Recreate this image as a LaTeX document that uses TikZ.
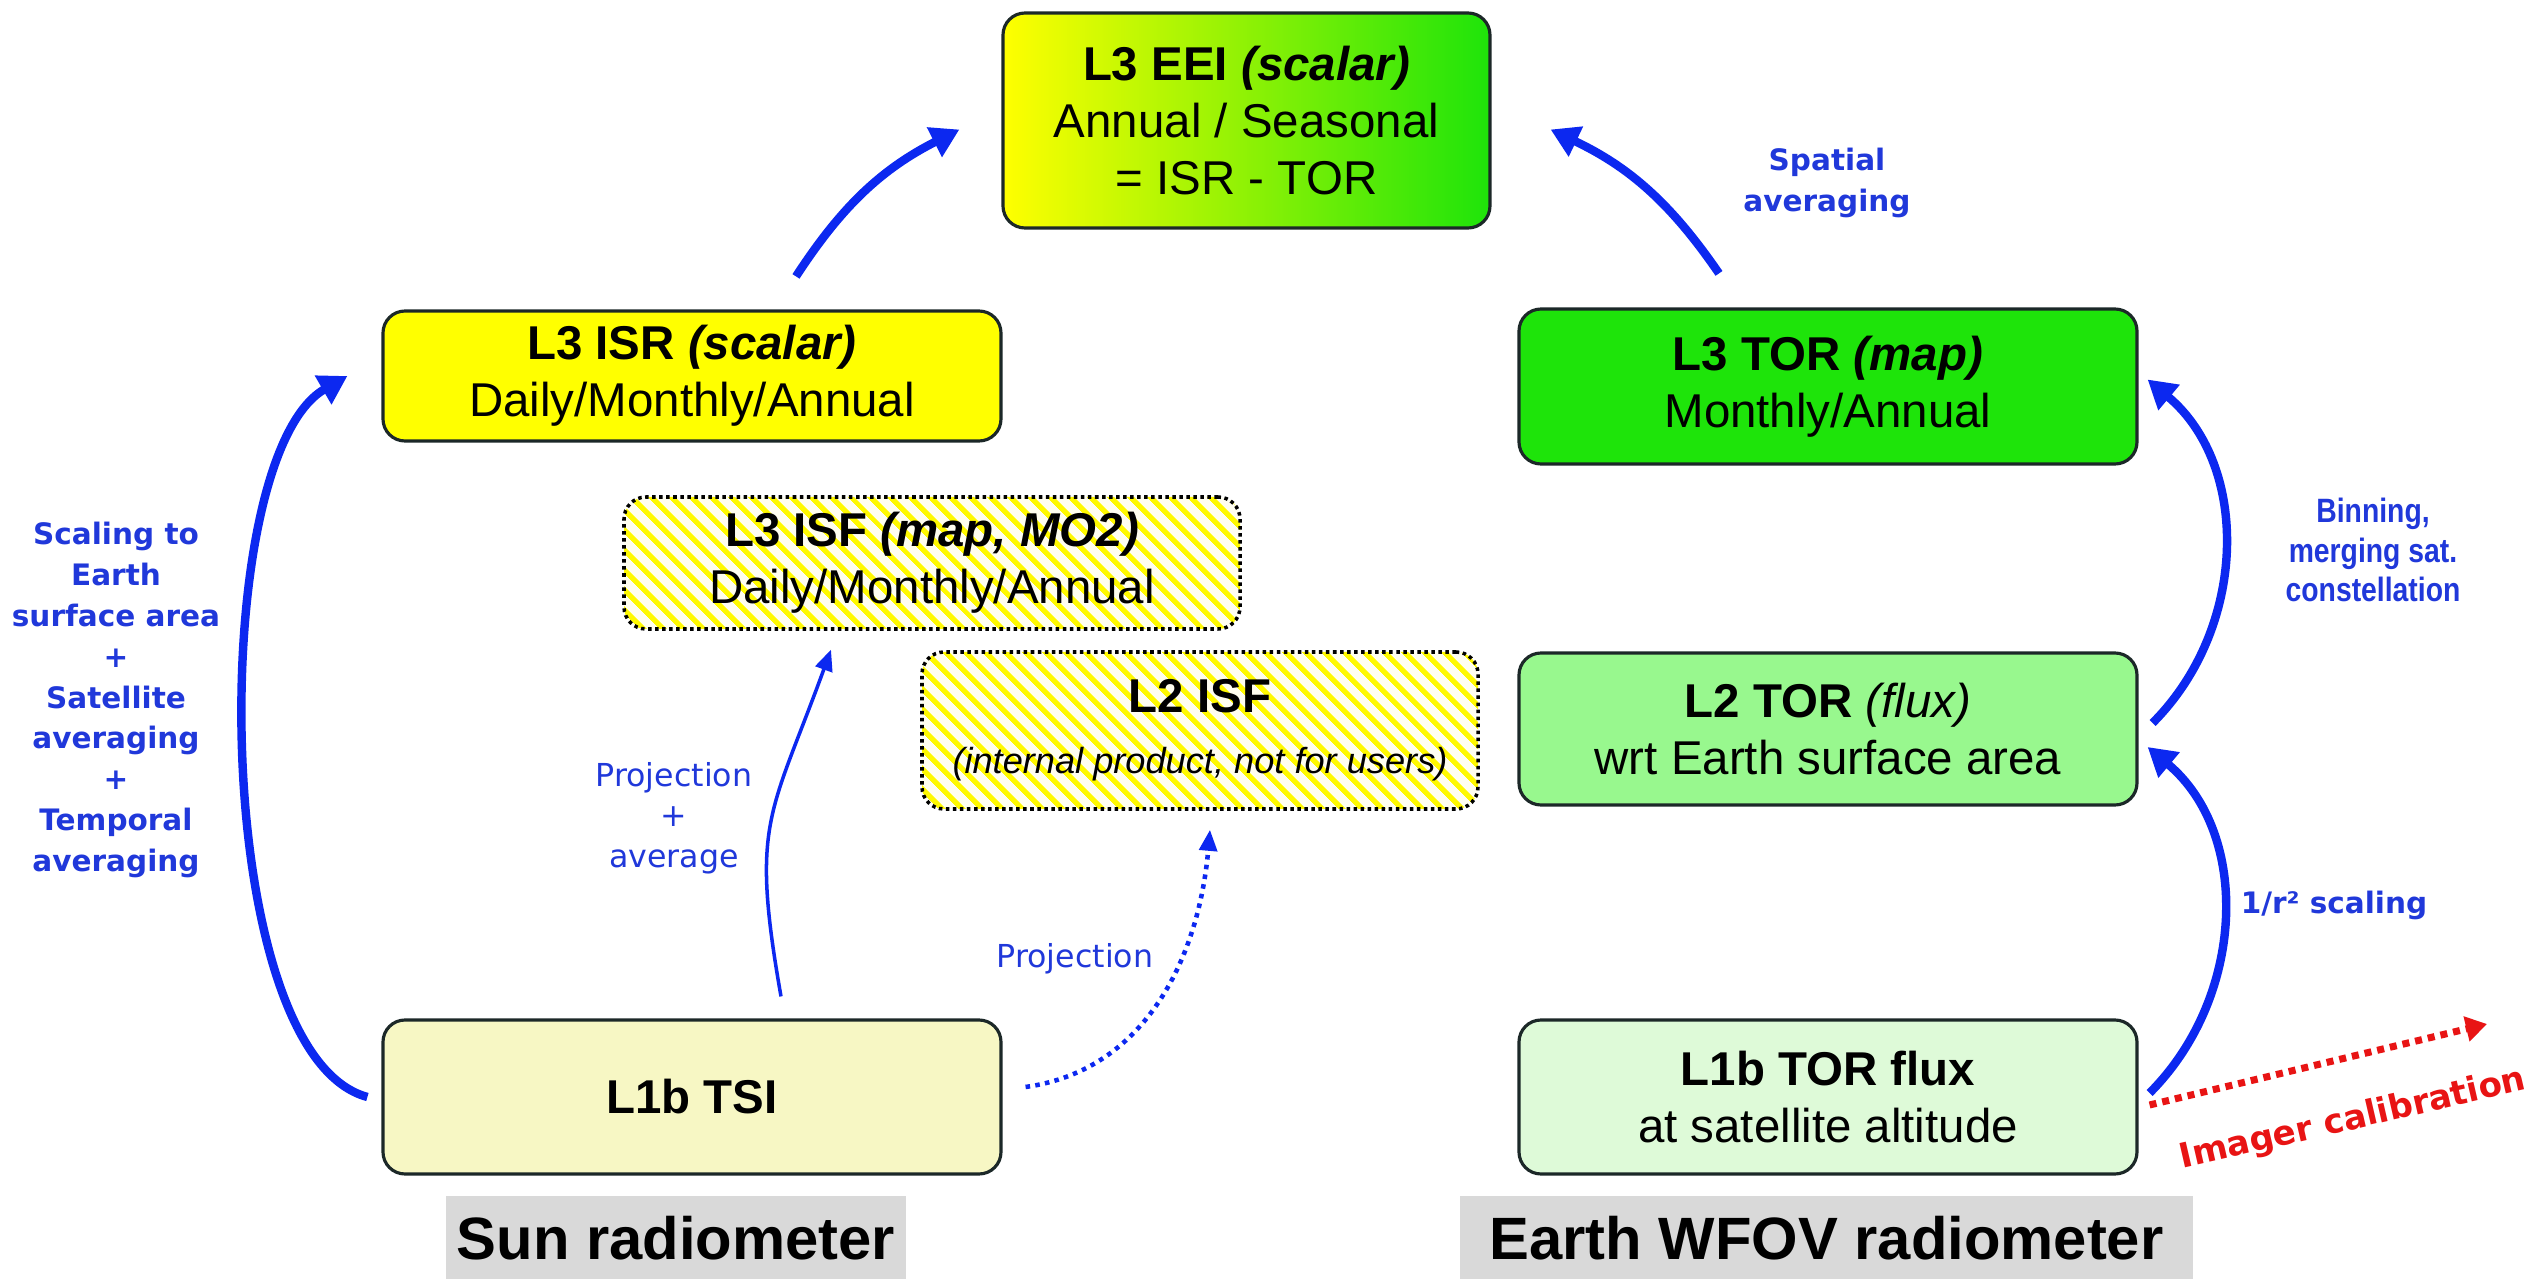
\documentclass[tikz,border=0pt]{standalone}
\usepackage{fontspec}
\setmainfont{Liberation Sans}
\newfontfamily\lblfont{DejaVu Sans}
\newfontfamily\narrowfont[FakeStretch=0.84]{Liberation Sans}
\usetikzlibrary{arrows.meta,patterns.meta}

\definecolor{flowblue}{RGB}{12,40,240}
\definecolor{lblblue}{RGB}{32,56,218}
\definecolor{calred}{RGB}{232,20,20}
\definecolor{isryellow}{RGB}{255,255,0}
\definecolor{torgreen}{RGB}{30,228,10}
\definecolor{fluxgreen}{RGB}{152,248,142}
\definecolor{rawgreen}{RGB}{222,250,216}
\definecolor{tsiyellow}{RGB}{247,247,196}
\definecolor{boxedge}{RGB}{28,40,40}
\definecolor{taggray}{RGB}{217,217,217}

\begin{document}
\begin{tikzpicture}[
  box/.style={draw=boxedge, line width=0.9pt, rounded corners=0.22cm,
    minimum width=6.18cm, inner sep=0pt, align=center,
    font=\fontsize{13.5}{16.3}\selectfont},
  hatchbox/.style={box, draw=black, line width=1pt, dash pattern=on 1pt off 1pt,
    preaction={fill=yellow!6},
    pattern={Lines[angle=-45,distance=4pt,line width=1.5pt]},
    pattern color=yellow!95!orange},
  tag/.style={fill=taggray, minimum height=0.85cm, inner sep=0pt,
    font=\bfseries\fontsize{17}{20}\selectfont},
  note/.style={text=lblblue, align=center,
    font=\lblfont\bfseries\fontsize{8.4}{11.6}\selectfont},
  plainnote/.style={text=lblblue, align=center,
    font=\lblfont\fontsize{9}{11.5}\selectfont},
  bigflow/.style={flowblue, line width=2.4pt,
    -{Triangle[length=8pt,width=9pt]}},
  thinflow/.style={flowblue, line width=1pt,
    -{Triangle[length=6pt,width=5pt]}},
  dotflow/.style={flowblue, line width=1.3pt, dash pattern=on 1.3pt off 1.5pt,
    -{Triangle[length=6pt,width=5pt]}},
  calflow/.style={calred, line width=2pt, dash pattern=on 2pt off 1.7pt,
    -{Triangle[length=6pt,width=7pt]}}
]
  \useasboundingbox (0,0) rectangle (25.36,12.78);

  % products
  \node[box, minimum width=4.87cm, minimum height=2.15cm,
        left color=isryellow, right color=torgreen] (eei) at (12.465,11.575)
        {\textbf{L3 EEI \textit{(scalar)}}\\Annual / Seasonal\\= ISR - TOR};
  \node[box, minimum height=1.30cm, fill=isryellow] (isr) at (6.92,9.02)
        {\textbf{L3 ISR \textit{(scalar)}}\\Daily/Monthly/Annual};
  \node[box, minimum height=1.55cm, fill=torgreen] (tor3) at (18.28,8.915)
        {\textbf{L3 TOR \textit{(map)}}\\Monthly/Annual};
  \node[hatchbox, minimum width=6.16cm, minimum height=1.32cm] (isf3) at (9.32,7.15)
        {\textbf{L3 ISF \textit{(map, MO2)}}\\Daily/Monthly/Annual};
  \node[hatchbox, minimum width=5.56cm, minimum height=1.57cm] (isf2) at (12.0,5.475)
        {\textbf{L2 ISF}\\[1pt]{\fontsize{10.3}{12}\selectfont\itshape (internal product, not for users)}};
  \node[box, minimum height=1.52cm, fill=fluxgreen] (tor2) at (18.28,5.49)
        {\textbf{L2 TOR} \textit{(flux)}\\wrt Earth surface area};
  \node[box, minimum height=1.54cm, fill=tsiyellow] (tsi) at (6.92,1.81)
        {\textbf{L1b TSI}};
  \node[box, minimum height=1.54cm, fill=rawgreen] (tor1) at (18.28,1.81)
        {\textbf{L1b TOR flux}\\at satellite altitude};

  % instruments
  \node[tag, minimum width=4.6cm] (sun) at (6.76,0.40) {Sun radiometer};
  \node[tag, minimum width=7.33cm] (earth) at (18.265,0.40) {Earth WFOV radiometer};

  % processing steps
  \draw[bigflow] ([xshift=1.04cm,yshift=0.33cm]isr.north)
        to[bend left=15] ([xshift=-0.42cm,yshift=-0.09cm]eei.west);
  \draw[bigflow] ([xshift=-1.09cm,yshift=0.34cm]tor3.north)
        to[bend right=15] ([xshift=0.59cm,yshift=-0.09cm]eei.east);
  \draw[bigflow] ([xshift=-0.14cm]tsi.west)
        to[out=165,in=210,looseness=0.58] ([xshift=-0.34cm]isr.west);
  \draw[bigflow] ([xshift=0.11cm,yshift=0.04cm]tor1.east)
        to[out=45,in=-40] ([xshift=0.09cm,yshift=-0.18cm]tor2.east);
  \draw[bigflow] ([xshift=0.14cm,yshift=0.06cm]tor2.east)
        to[out=45,in=-40] ([xshift=0.09cm,yshift=0.07cm]tor3.east);
  \draw[thinflow] ([xshift=0.89cm,yshift=0.22cm]tsi.north)
        to[out=100,in=-110,looseness=1.3] ([xshift=-1.01cm,yshift=-0.18cm]isf3.south);
  \draw[dotflow] ([xshift=0.23cm,yshift=0.1cm]tsi.east)
        to[out=8,in=-95] ([xshift=0.1cm,yshift=-0.19cm]isf2.south);
  \coordinate (calib) at (24.87,2.54);
  \draw[calflow] ([xshift=0.11cm,yshift=-0.08cm]tor1.east) -- (calib);

  % step labels
  \node[note] (spatial) at (18.27,10.95) {Spatial\\averaging};
  \node[note] (scaling) at (1.16,5.78)
        {Scaling to\\Earth\\surface area\\+\\Satellite\\averaging\\+\\Temporal\\averaging};
  \node[text=lblblue, align=center, font=\narrowfont\bfseries\fontsize{9.6}{11.2}\selectfont]
        (binning) at (23.73,7.28) {Binning,\\merging sat.\\constellation};
  \node[note] (rsq) at (23.34,3.73) {1/r² scaling};
  \node[plainnote] (projavg) at (6.74,4.60) {Projection\\+\\average};
  \node[plainnote] (proj) at (10.75,3.19) {Projection};
  \node[rotate=13, text=calred, font=\lblfont\bfseries\fontsize{9.7}{12}\selectfont]
        (calibtext) at (23.53,1.58) {Imager calibration};
\end{tikzpicture}
\end{document}
